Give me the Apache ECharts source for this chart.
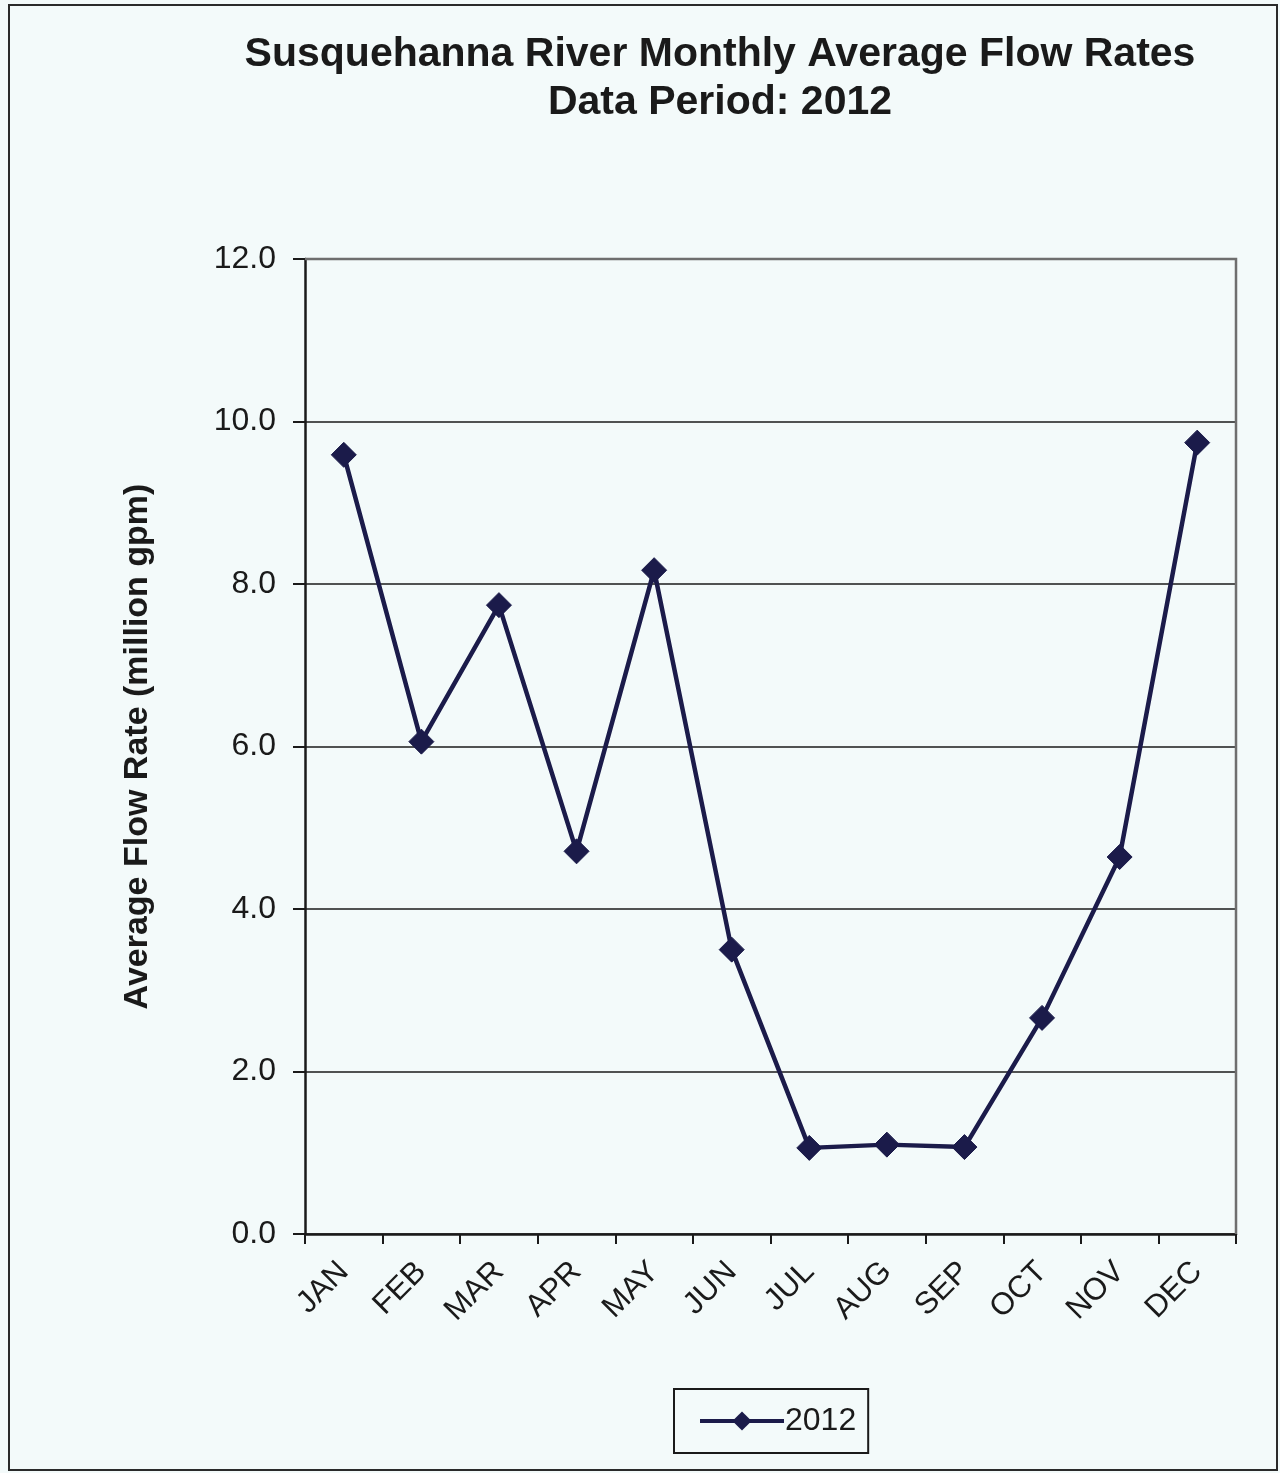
<!DOCTYPE html>
<html>
<head>
<meta charset="utf-8">
<script src="https://cdn.jsdelivr.net/npm/echarts@6/dist/echarts.min.js"></script>
<style>
  html, body { margin: 0; padding: 0; background: #f3fafa; }
  #chart { width: 1280px; height: 1473px; }
</style>
</head>
<body>
<div id="chart"></div>
<script>
// Monthly average flow, Susquehanna River, 2012 (million gpm)
const months = ['JAN', 'FEB', 'MAR', 'APR', 'MAY', 'JUN', 'JUL', 'AUG', 'SEP', 'OCT', 'NOV', 'DEC'];
const flow2012 = [9.59, 6.06, 7.74, 4.71, 8.17, 3.50, 1.06, 1.10, 1.07, 2.66, 4.64, 9.74];
const seriesName = '2012';

const font = 'Liberation Sans, Arial, sans-serif';
const ink = '#1b1b4a';

const chart = echarts.init(document.getElementById('chart'), null, { renderer: 'canvas' });

chart.setOption({
  backgroundColor: '#f3fafa',
  animation: false,
  title: {
    text: 'Susquehanna River Monthly Average Flow Rates\nData Period: 2012',
    left: 715,
    top: 26,
    textAlign: 'center',
    textStyle: {
      fontFamily: font,
      fontWeight: 'bold',
      fontSize: 41,
      lineHeight: 48,
      color: '#1a1a1a'
    }
  },
  graphic: [
    {
      type: 'rect',
      shape: { x: 9, y: 5, width: 1268, height: 1465 },
      style: { fill: 'none', stroke: '#2a2a2a', lineWidth: 2 },
      z: -1
    },
    {
      // top and right edges of the plot frame
      type: 'polyline',
      shape: { points: [[305, 259], [1236, 259], [1236, 1234]] },
      style: { stroke: '#6e6e6e', lineWidth: 2.5, fill: 'none' },
      z: 1
    }
  ],
  grid: {
    left: 305,
    right: 44,
    top: 259,
    bottom: 239,
    containLabel: false
  },
  legend: {
    left: 674,
    top: 1389,
    orient: 'horizontal',
    data: [seriesName],
    backgroundColor: 'transparent',
    borderColor: '#1a1a1a',
    borderWidth: 2,
    borderRadius: 0,
    padding: [16, 12, 16, 24],
    itemWidth: 84,
    itemHeight: 24,
    itemGap: 0,
    lineStyle: { width: 4, color: ink },
    textStyle: {
      fontFamily: font,
      fontSize: 32,
      color: '#1a1a1a',
      padding: [0, 0, 0, -4]
    }
  },
  xAxis: {
    type: 'category',
    data: months,
    boundaryGap: true,
    axisLine: { show: true, lineStyle: { color: '#1a1a1a', width: 2.5 } },
    axisTick: { show: true, inside: false, length: 10, alignWithLabel: false, lineStyle: { color: '#1a1a1a', width: 2 } },
    axisLabel: {
      rotate: 45,
      margin: 33,
      interval: 0,
      fontFamily: font,
      fontSize: 31,
      color: '#1a1a1a'
    },
    splitLine: { show: false }
  },
  yAxis: {
    type: 'value',
    min: 0,
    max: 12,
    interval: 2,
    name: 'Average Flow Rate (million gpm)',
    nameLocation: 'middle',
    nameRotate: 90,
    nameGap: 150,
    nameTextStyle: {
      fontFamily: font,
      fontWeight: 'bold',
      fontSize: 34,
      color: '#1a1a1a'
    },
    axisLine: { show: true, lineStyle: { color: '#1a1a1a', width: 2.5 } },
    axisTick: { show: true, inside: false, length: 12, lineStyle: { color: '#1a1a1a', width: 2 } },
    axisLabel: {
      margin: 29,
      fontFamily: font,
      fontSize: 32,
      color: '#1a1a1a',
      formatter: v => v.toFixed(1)
    },
    splitLine: { show: true, lineStyle: { color: '#1a1a1a', width: 1.5 } }
  },
  series: [
    {
      name: seriesName,
      type: 'line',
      data: flow2012,
      symbol: 'diamond',
      symbolSize: 25,
      showAllSymbol: true,
      lineStyle: { color: ink, width: 4.5 },
      itemStyle: { color: ink, borderColor: ink },
      z: 3
    }
  ]
});
</script>
</body>
</html>
